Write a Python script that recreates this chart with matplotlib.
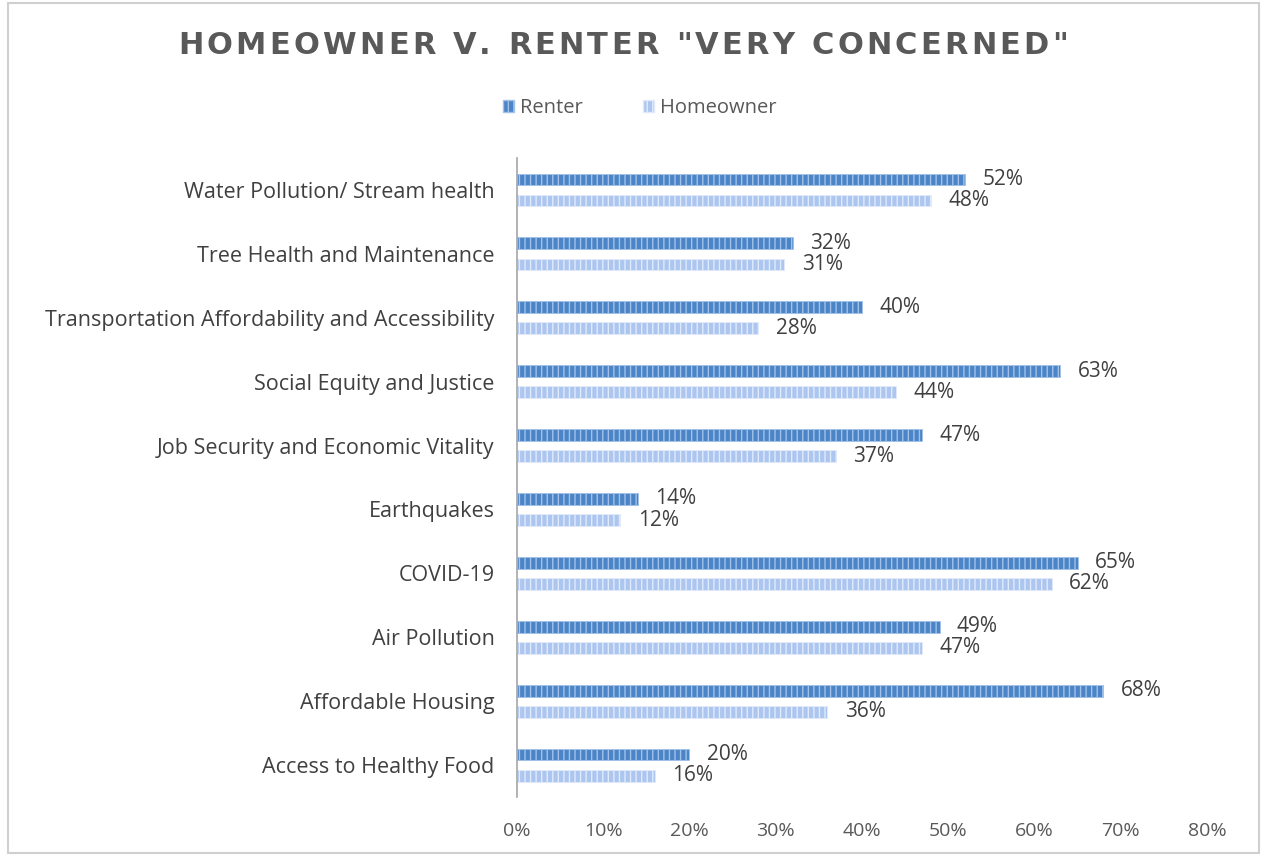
import matplotlib
matplotlib.use("Agg")
import matplotlib.pyplot as plt
from matplotlib.patches import Rectangle, Patch

plt.rcParams['font.family'] = ['Open Sans', 'DejaVu Sans']

categories = [
    "Water Pollution/ Stream health",
    "Tree Health and Maintenance",
    "Transportation Affordability and Accessibility",
    "Social Equity and Justice",
    "Job Security and Economic Vitality",
    "Earthquakes",
    "COVID-19",
    "Air Pollution",
    "Affordable Housing",
    "Access to Healthy Food",
]
renter = [52, 32, 40, 63, 47, 14, 65, 49, 68, 20]
homeowner = [48, 31, 28, 44, 37, 12, 62, 47, 36, 16]
x_ticks = [0, 10, 20, 30, 40, 50, 60, 70, 80]
title = 'HOMEOWNER V. RENTER "VERY CONCERNED"'

W, H = 1267, 856
fig = plt.figure(figsize=(W / 100, H / 100), dpi=100)
ax = fig.add_axes([0.408, 0.0689, 0.5446, 0.7465])

RENTER_FACE, RENTER_HATCH = '#4b85c7', '#a2c1e8'
HOME_FACE, HOME_HATCH = '#adc6ef', '#e0eafb'
TEXT = '#404040'

pos = list(range(len(categories)))
h = 0.185
off = 0.165
renter_y = [p - off for p in pos]
home_y = [p + off for p in pos]

ax.barh(renter_y, renter, height=h, color=RENTER_FACE, edgecolor=RENTER_HATCH,
        hatch='|||', linewidth=0.6)
ax.barh(home_y, homeowner, height=h, color=HOME_FACE, edgecolor=HOME_HATCH,
        hatch='|||', linewidth=0.6)

for ys, vals in ((renter_y, renter), (home_y, homeowner)):
    for y, v in zip(ys, vals):
        ax.text(v + 2.0, y, f"{v}%", va='center', ha='left', fontsize=15, color=TEXT)

ax.set_ylim(len(categories) - 0.5, -0.5)
ax.set_xlim(0, 80)
ax.set_yticks(pos)
ax.set_yticklabels(categories, fontsize=15.5, color=TEXT)
ax.set_xticks(x_ticks)
ax.set_xticklabels([f"{t}%" for t in x_ticks], fontsize=14, color='#595959')
ax.tick_params(axis='both', length=0)
ax.tick_params(axis='y', pad=16)
ax.tick_params(axis='x', pad=18)
for s in ['top', 'right', 'bottom']:
    ax.spines[s].set_visible(False)
ax.spines['left'].set_color('#a6a6a6')
ax.spines['left'].set_linewidth(1.2)

# letter-spaced title, laid out character by character
renderer = fig.canvas.get_renderer()
title_kw = dict(fontsize=22, fontweight='bold', color='#595959', va='center', ha='left',
                family=['DejaVu Sans'])

def char_width(ch):
    if ch == ' ':
        a = fig.text(0, 0, 'HH', **title_kw)
        b = fig.text(0, 0, 'H H', **title_kw)
        w = b.get_window_extent(renderer).width - a.get_window_extent(renderer).width
        a.remove(); b.remove()
        return w
    t = fig.text(0, 0, ch, **title_kw)
    w = t.get_window_extent(renderer).width
    t.remove()
    return w

widths = [char_width(c) for c in title]
target_w = 890
track = (target_w - sum(widths)) / (len(title) - 1)
x = 623 - target_w / 2
ty = 45
for c, w in zip(title, widths):
    if c != ' ':
        fig.text(x / W, 1 - ty / H, c, **title_kw)
    x += w + track

handles = [Patch(facecolor=RENTER_FACE, edgecolor=RENTER_HATCH, hatch='|||', label='Renter'),
           Patch(facecolor=HOME_FACE, edgecolor=HOME_HATCH, hatch='|||', label='Homeowner')]
fig.legend(handles=handles, loc='center', bbox_to_anchor=(0.505, 0.874), ncol=2,
           frameon=False, fontsize=14.5, labelcolor='#595959', handlelength=0.55,
           handleheight=0.55, handletextpad=0.3, columnspacing=3.0)

fig.patches.append(Rectangle((0.006, 0.004), 0.988, 0.992, transform=fig.transFigure,
                             fill=False, edgecolor='#d0d0d0', linewidth=1.5))

fig.savefig('out.png', dpi=100, facecolor='white')
